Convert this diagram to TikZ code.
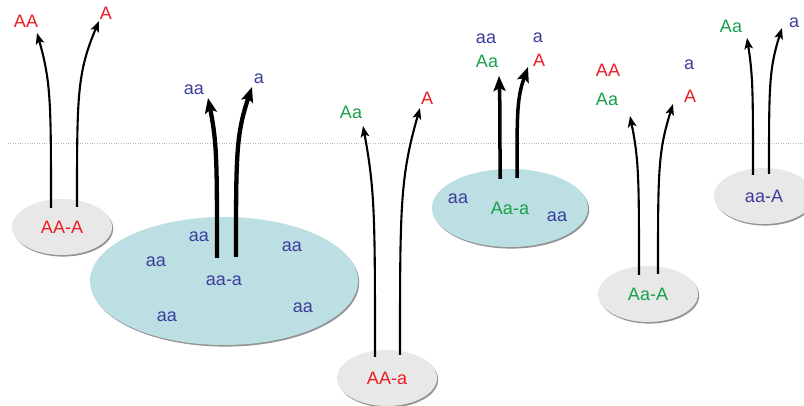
\documentclass[tikz,border=0pt]{standalone}
\usepackage{fontspec}
\setmainfont{Liberation Sans}
\usepackage[HTML]{xcolor}
\usetikzlibrary{arrows.meta, shapes.geometric, shadows, calc}

\definecolor{alleleRed}{HTML}{EC1C24}
\definecolor{alleleBlue}{HTML}{3C3C9C}
\definecolor{alleleGreen}{HTML}{18A04A}
\definecolor{blobGray}{HTML}{E8E8E8}
\definecolor{blobTeal}{HTML}{BCDFE3}

\tikzset{
  blob/.style={ellipse, inner sep=0pt, minimum width=100pt, minimum height=56pt,
    drop shadow={shadow xshift=1.2pt, shadow yshift=-1.6pt, fill=black!60, opacity=0.7}},
  grayblob/.style={blob, fill=blobGray},
  tealblob/.style={blob, fill=blobTeal},
  txtred/.style={text=alleleRed},
  txtblue/.style={text=alleleBlue},
  txtgreen/.style={text=alleleGreen},
  thinarrow/.style={line width=2.1pt, -{Stealth[length=11pt, width=8.5pt, inset=2.5pt]}},
  thickarrow/.style={line width=4.3pt, -{Stealth[length=15pt, width=12pt, inset=3pt]}},
  rise/.style={to path={.. controls ($(\tikztostart)!0.6!(\tikztostart|-\tikztotarget)$)
    and ($(\tikztostart|-\tikztotarget)!0.28!(\tikztostart)$) .. (\tikztotarget)}}
}

\begin{document}
\begin{tikzpicture}[x=1pt, y=-1pt, every node/.style={font=\fontsize{18}{20}\selectfont}]
\useasboundingbox (0,0) rectangle (804,406);
% dotted boundary
\draw[gray!55, line width=0.7pt, dash pattern=on 0.8pt off 1.6pt] (8,143) -- (804,143);

% colonies
\node[grayblob, txtred] (cAAA) at (62,227) {AA-A};
\node[tealblob, txtblue, minimum width=268pt, minimum height=128pt] (caaa) at (224,281) {aa-a};
\node[grayblob, txtred] (cAAa) at (387,378) {AA-a};
\node[tealblob, txtgreen, minimum width=156pt, minimum height=78pt] (cAaa) at (510,208) {Aa-a};
\node[grayblob, txtgreen] (cAaA) at (648,294) {Aa-A};
\node[grayblob, txtblue] (caaA) at (764,196) {aa-A};

% residents inside the teal colonies
\node[txtblue] (r1) at (199,237) {aa};
\node[txtblue] (r2) at (156,262) {aa};
\node[txtblue] (r3) at (167,317) {aa};
\node[txtblue] (r4) at (292,247) {aa};
\node[txtblue] (r5) at (303,308) {aa};
\node[txtblue] (r6) at (458,199) {aa};
\node[txtblue] (r7) at (557,217) {aa};

% offspring labels
\node[txtred] (oAA1) at (26,21) {AA};
\node[txtred] (oA1) at (106,13) {A};
\node[txtblue] (oaa2) at (194,90) {aa};
\node[txtblue] (oa2) at (259,79) {a};
\node[txtgreen] (oAa3) at (351,112) {Aa};
\node[txtred] (oA3) at (427,98) {A};
\node[txtblue] (oaa4) at (486,39) {aa};
\node[txtgreen] (oAa4) at (487,61) {Aa};
\node[txtblue] (oa4) at (538,38) {a};
\node[txtred] (oA4) at (539,60) {A};
\node[txtred] (oAA5) at (608,70) {AA};
\node[txtgreen] (oAa5) at (607,99) {Aa};
\node[txtblue] (oa5) at (689,65) {a};
\node[txtred] (oA5) at (690,96) {A};
\node[txtgreen] (oAa6) at (731,26) {Aa};
\node[txtblue] (oa6) at (794,23) {a};

% arrow ends
\coordinate (s1l) at (51,208);  \coordinate (t1l) at (37,33);
\coordinate (s1r) at (77,207);  \coordinate (t1r) at (99,21);
\coordinate (s2l) at (217,258); \coordinate (t2l) at (208,98);
\coordinate (s2r) at (236,257); \coordinate (t2r) at (252,87);
\coordinate (s3l) at (375,357); \coordinate (t3l) at (363,126);
\coordinate (s3r) at (400,355); \coordinate (t3r) at (420,108);
\coordinate (s4l) at (500,179); \coordinate (t4l) at (499,76);
\coordinate (s4r) at (517,178); \coordinate (t4r) at (528,67);
\coordinate (s5l) at (639,275); \coordinate (t5l) at (630,116);
\coordinate (s5r) at (658,274); \coordinate (t5r) at (673,104);
\coordinate (s6l) at (753,175); \coordinate (t6l) at (747,38);
\coordinate (s6r) at (769,174); \coordinate (t6r) at (782,28);

% emigration arrows
\draw[thinarrow] (s1l) to[rise] (t1l);
\draw[thinarrow] (s1r) to[rise] (t1r);
\draw[thickarrow] (s2l) to[rise] (t2l);
\draw[thickarrow] (s2r) to[rise] (t2r);
\draw[thinarrow] (s3l) to[rise] (t3l);
\draw[thinarrow] (s3r) to[rise] (t3r);
\draw[thickarrow, line width=3.5pt] (s4l) to[rise] (t4l);
\draw[thickarrow, line width=3.5pt] (s4r) to[rise] (t4r);
\draw[thinarrow] (s5l) to[rise] (t5l);
\draw[thinarrow] (s5r) to[rise] (t5r);
\draw[thinarrow] (s6l) to[rise] (t6l);
\draw[thinarrow] (s6r) to[rise] (t6r);
\end{tikzpicture}
\end{document}
